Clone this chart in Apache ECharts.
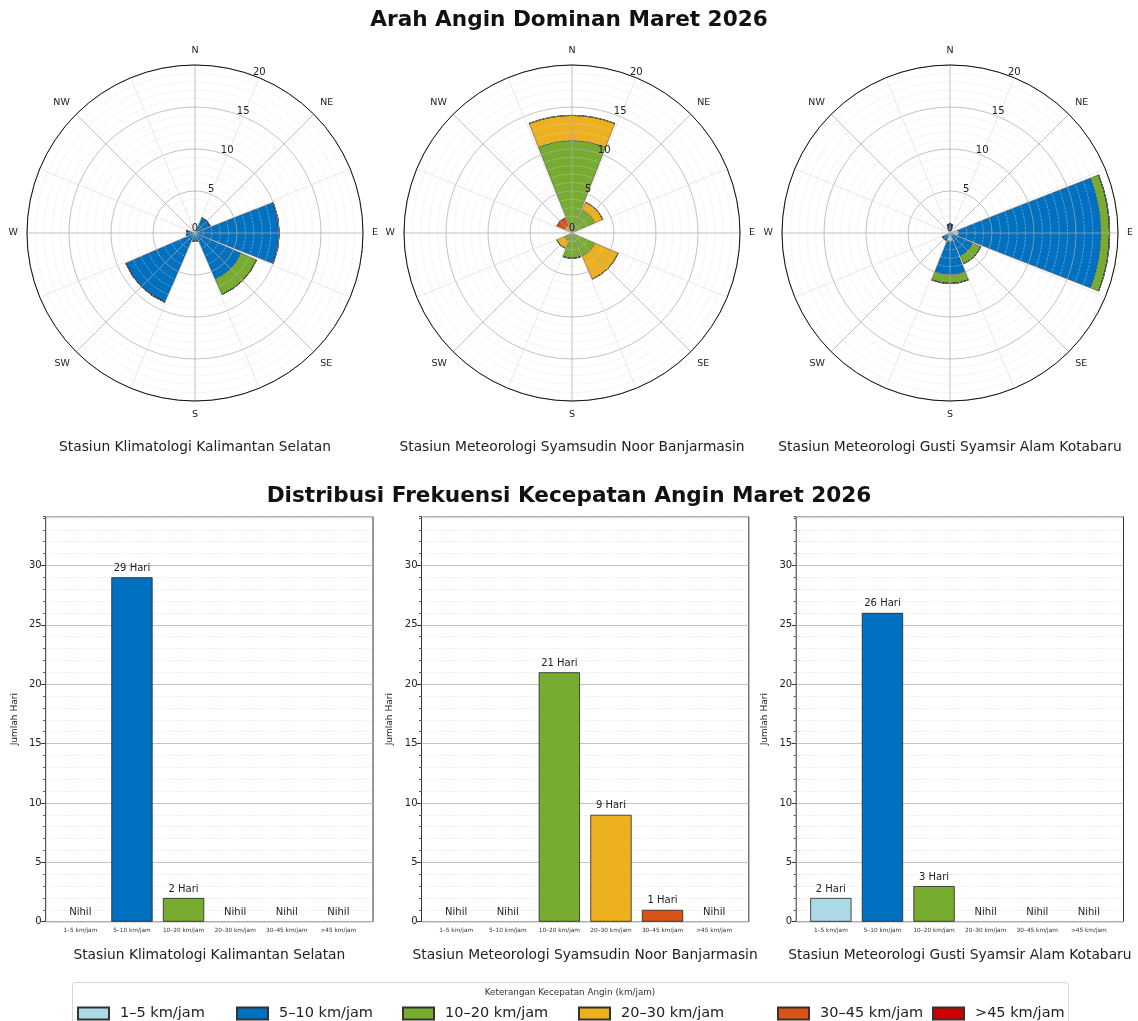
<!DOCTYPE html>
<html>
<head>
<meta charset="utf-8">
<script src="https://cdn.jsdelivr.net/npm/echarts@6/dist/echarts.min.js"></script>
<style>
html, body { margin: 0; padding: 0; background: #fff; }
#main { width: 1138px; height: 1021px; }
</style>
</head>
<body>
<div id="main"></div>
<script>
var stasiun = ['Stasiun Klimatologi Kalimantan Selatan', 'Stasiun Meteorologi Syamsudin Noor Banjarmasin', 'Stasiun Meteorologi Gusti Syamsir Alam Kotabaru'];
var arah = ['N', 'NE', 'E', 'SE', 'S', 'SW', 'W', 'NW'];
var kelas = ['1–5 km/jam', '5–10 km/jam', '10–20 km/jam', '20–30 km/jam', '30–45 km/jam', '>45 km/jam'];
var warna = ['#add8e6', '#0070c0', '#77ac30', '#edb120', '#d95319', '#cc0000'];

// mawar angin: jumlah hari per arah (N..NW), satu baris per kelas kecepatan
var mawar1 = [
    [0, 0, 0, 0, 0, 0, 0, 0],
    [0, 2, 10, 6, 1, 9, 1, 0],
    [0, 0, 0, 2, 0, 0, 0, 0],
    [0, 0, 0, 0, 0, 0, 0, 0],
    [0, 0, 0, 0, 0, 0, 0, 0],
    [0, 0, 0, 0, 0, 0, 0, 0]
];
var mawar2 = [
    [0, 0, 0, 0, 0, 0, 0, 0],
    [0, 0, 0, 0, 0, 0, 0, 0],
    [11, 3, 0, 3, 3, 1, 0, 0],
    [3, 1, 0, 3, 0, 1, 0, 1],
    [0, 0, 0, 0, 0, 0, 0, 1],
    [0, 0, 0, 0, 0, 0, 0, 0]
];
var mawar3 = [
    [0, 0, 1, 0, 1, 0, 0, 0],
    [1, 0, 17, 3, 4, 1, 0, 0],
    [0, 0, 1, 1, 1, 0, 0, 0],
    [0, 0, 0, 0, 0, 0, 0, 0],
    [0, 0, 0, 0, 0, 0, 0, 0],
    [0, 0, 0, 0, 0, 0, 0, 0]
];
// distribusi frekuensi: jumlah hari per kelas kecepatan
var hari1 = [0, 29, 2, 0, 0, 0];
var hari2 = [0, 0, 21, 9, 1, 0];
var hari3 = [2, 26, 3, 0, 0, 0];

var mawar = [mawar1, mawar2, mawar3];
var hari = [hari1, hari2, hari3];

// tata letak
var pusatX = [195, 572, 950];
var panelX = [45.7, 421.5, 796.2];
var legendX = [77, 236, 402, 578, 777, 932];
var font = 'DejaVu Sans';

var polar = [], angleAxis = [], radiusAxis = [], grid = [], xAxis = [], yAxis = [], series = [], title = [], legend = [];

title.push({ text: 'Arah Angin Dominan Maret 2026', left: 'center', top: 4,
    textStyle: { fontSize: 21.6, fontWeight: 'bold', color: '#111', fontFamily: font } });
title.push({ text: 'Distribusi Frekuensi Kecepatan Angin Maret 2026', left: 'center', top: 480,
    textStyle: { fontSize: 21.6, fontWeight: 'bold', color: '#111', fontFamily: font } });
title.push({ text: 'Keterangan Kecepatan Angin (km/jam)', left: 570, top: 988, textAlign: 'center', padding: 0,
    textStyle: { fontSize: 8.8, fontWeight: 'normal', color: '#333', fontFamily: font } });

// polar untuk grid (0..2)
for (var i = 0; i < 3; i++) {
    polar.push({ center: [pusatX[i], 233], radius: 168 });
    angleAxis.push({
        polarIndex: i, type: 'value', min: 0, max: 360, interval: 22.5,
        startAngle: 67.5, clockwise: true, z: 5,
        axisLine: { lineStyle: { color: '#111', width: 1 } },
        axisTick: { show: false },
        axisLabel: {
            margin: 9, fontSize: 9.5, color: '#222',
            formatter: function (v) {
                var b = (v + 22.5) % 360;
                return b % 45 === 0 ? arah[b / 45] : '';
            }
        },
        splitLine: { lineStyle: { color: ['rgba(215,215,215,0.7)', 'rgba(170,170,170,0.9)'], width: 0.8 } }
    });
    radiusAxis.push({
        polarIndex: i, type: 'value', min: 0, max: 20, interval: 5, z: 5,
        axisLine: { show: false },
        axisTick: { show: false },
        axisLabel: { fontSize: 10, color: '#222', margin: 0, align: 'center', verticalAlign: 'bottom' },
        splitLine: { lineStyle: { color: 'rgba(170,170,170,0.9)', width: 0.8 } },
        minorTick: { show: false, splitNumber: 5 },
        minorSplitLine: { show: true, lineStyle: { color: 'rgba(220,220,220,0.75)', type: 'dashed', width: 0.6 } }
    });
    title.push({ text: stasiun[i], left: pusatX[i], top: 440, textAlign: 'center', padding: 0,
        textStyle: { fontSize: 13.8, fontWeight: 'normal', color: '#222', fontFamily: font } });
}

// polar untuk batang mawar angin (3..5)
for (var i = 0; i < 3; i++) {
    polar.push({ center: [pusatX[i], 233], radius: 168 });
    angleAxis.push({
        polarIndex: 3 + i, type: 'category', data: arah, startAngle: 112.5, clockwise: true,
        axisLine: { show: false }, axisTick: { show: false }, axisLabel: { show: false }, splitLine: { show: false }
    });
    radiusAxis.push({
        polarIndex: 3 + i, type: 'value', min: 0, max: 20,
        axisLine: { show: false }, axisTick: { show: false }, axisLabel: { show: false }, splitLine: { show: false }
    });
    for (var k = 0; k < kelas.length; k++) {
        series.push({
            type: 'bar', name: kelas[k], coordinateSystem: 'polar', polarIndex: 3 + i,
            stack: 'mawar' + i, barCategoryGap: '5%', data: mawar[i][k],
            itemStyle: { color: warna[k], borderColor: '#333', borderWidth: 0.5 },
            emphasis: { disabled: true }
        });
    }
}

// diagram batang
for (var i = 0; i < 3; i++) {
    var L = panelX[i];
    grid.push({ left: L, top: 516.7, width: 327.3, height: 405, show: true, borderColor: '#333', borderWidth: 1 });
    grid.push({ left: L + 8.85, top: 516.7, width: 309.6, height: 405 });
    var gF = 2 * i, gB = 2 * i + 1;

    xAxis.push({ gridIndex: gF, type: 'value', min: 0, max: 1, show: false });
    xAxis.push({
        gridIndex: gB, type: 'category', data: kelas, position: 'bottom',
        axisLine: { show: false },
        axisTick: { alignWithLabel: true, length: 5, lineStyle: { color: '#333' } },
        axisLabel: { fontSize: 5.8, color: '#333', margin: 6, interval: 0 },
        name: stasiun[i], nameLocation: 'middle', nameGap: 27,
        nameTextStyle: { fontSize: 13.8, color: '#222', fontFamily: font }
    });
    xAxis.push({
        gridIndex: gB, type: 'category', data: kelas, position: 'bottom',
        axisLine: { show: false },
        axisTick: { length: 3, lineStyle: { color: '#555' } },
        axisLabel: { show: false }
    });

    yAxis.push({
        gridIndex: gF, type: 'value', min: 0, max: 34.1, interval: 1, position: 'left',
        axisLine: { show: false },
        axisTick: { length: 2.5, lineStyle: { color: '#555' } },
        axisLabel: { show: false },
        splitLine: { lineStyle: { color: '#e3e3e3', type: 'dashed', width: 0.6 } }
    });
    yAxis.push({
        gridIndex: gF, type: 'value', min: 0, max: 34.1, interval: 5, position: 'left',
        axisLine: { show: false },
        axisTick: { length: 4.5, lineStyle: { color: '#333' } },
        axisLabel: { fontSize: 10, color: '#222', margin: 4, showMaxLabel: false },
        splitLine: { lineStyle: { color: '#b8b8b8', width: 0.8 } },
        name: 'Jumlah Hari', nameLocation: 'middle', nameGap: 27,
        nameTextStyle: { fontSize: 9, color: '#222', fontFamily: font }
    });
    yAxis.push({ gridIndex: gB, type: 'value', min: 0, max: 34.1, show: false });

    series.push({
        type: 'bar', name: 'frek' + i, xAxisIndex: 3 * i + 1, yAxisIndex: 3 * i + 2,
        barWidth: '80%',
        data: hari[i].map(function (v, k) {
            return { value: v, itemStyle: { color: warna[k], borderWidth: v > 0 ? 0.8 : 0 } };
        }),
        itemStyle: { borderColor: '#222', borderWidth: 0.8 },
        label: {
            show: true, position: 'top', distance: 4, fontSize: 10, color: '#222',
            formatter: function (p) { return p.value > 0 ? p.value + ' Hari' : 'Nihil'; }
        },
        emphasis: { disabled: true }
    });
}

for (var k = 0; k < kelas.length; k++) {
    legend.push({
        data: [kelas[k]], left: legendX[k], top: 1006, padding: 0, itemGap: 0,
        itemWidth: 31, itemHeight: 12, icon: 'rect', selectedMode: false,
        textStyle: { fontSize: 14.5, color: '#222', fontFamily: font, padding: [0, 0, 0, 6] }
    });
}

var chart = echarts.init(document.getElementById('main'));
chart.setOption({
    backgroundColor: '#fff',
    animation: false,
    textStyle: { fontFamily: font },
    title: title,
    legend: legend,
    graphic: [{
        type: 'rect', left: 72, top: 982, z: -1,
        shape: { width: 996, height: 50, r: 3 },
        style: { fill: '#fff', stroke: '#d6d6d6', lineWidth: 1 }
    }],
    polar: polar,
    angleAxis: angleAxis,
    radiusAxis: radiusAxis,
    grid: grid,
    xAxis: xAxis,
    yAxis: yAxis,
    series: series
});
</script>
</body>
</html>
